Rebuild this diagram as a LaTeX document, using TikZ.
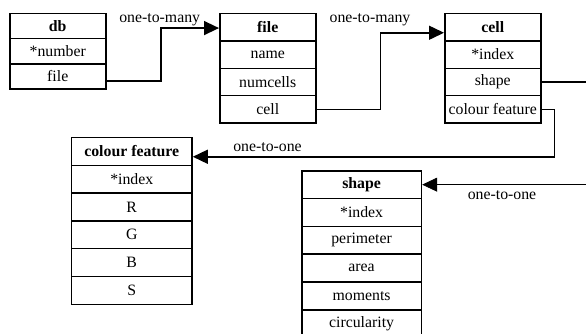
\documentclass[tikz,border=0pt]{standalone}
\usepackage{fontspec}
\setmainfont{Liberation Serif}
\newfontfamily\tnr{Liberation Serif}
\usetikzlibrary{arrows.meta,calc}
\tikzset{
  txt/.style={font=\tnr\fontsize{15.8}{18}\selectfont},
  cellrow/.style={draw, line width=1.5pt, inner sep=0pt, anchor=north west, txt},
  headrow/.style={cellrow, font=\tnr\fontsize{15.8}{18}\selectfont\bfseries},
  dbrow/.style={minimum width=96pt, minimum height=25.2pt},
  filerow/.style={minimum width=96pt, minimum height=27.4pt},
  cfrow/.style={minimum width=120.6pt, minimum height=27.8pt},
  shrow/.style={minimum width=119.7pt, minimum height=27.8pt},
  tip/.style={-{Triangle[length=15pt,width=14pt]}},
  conn/.style={line width=1.5pt, tip},
  thinconn/.style={line width=0.8pt, tip},
  thickline/.style={line width=1.5pt},
  lbl/.style={txt, anchor=base, inner sep=0pt}
}
\begin{document}
\begin{tikzpicture}[x=1pt,y=-1pt]
\useasboundingbox (0,0) rectangle (586,333);
\clip (0,0) rectangle (586,333);
% db
\node[headrow,dbrow] (db0) at (9,12.7) {db};
\node[cellrow,dbrow] (dbnum) at (9,37.9) {*number};
\node[cellrow,dbrow] (dbfile) at (9,63.1) {file};
% file
\node[headrow,filerow] (file0) at (219,12.7) {file};
\node[cellrow,filerow] (fname) at (219,40.1) {name};
\node[cellrow,filerow] (fnum) at (219,67.5) {numcells};
\node[cellrow,filerow] (fcell) at (219,94.9) {cell};
% cell
\node[headrow,filerow] (cell0) at (444,12.7) {cell};
\node[cellrow,filerow] (cidx) at (444,40.1) {*index};
\node[cellrow,filerow] (cshape) at (444,67.5) {shape};
\node[cellrow,filerow] (ccol) at (444,94.9) {colour feature};
% colour feature
\node[headrow,cfrow] (cf0) at (70.7,136.7) {colour feature};
\node[cellrow,cfrow] (cfidx) at (70.7,164.5) {*index};
\node[cellrow,cfrow] (cfr) at (70.7,192.3) {R};
\node[cellrow,cfrow] (cfg) at (70.7,220.1) {G};
\node[cellrow,cfrow] (cfb) at (70.7,247.9) {B};
\node[cellrow,cfrow] (cfs) at (70.7,275.7) {S};
% shape
\node[headrow,shrow] (sh0) at (301,170) {shape};
\node[cellrow,shrow] (shidx) at (301,197.8) {*index};
\node[cellrow,shrow] (shper) at (301,225.6) {perimeter};
\node[cellrow,shrow] (sharea) at (301,253.4) {area};
\node[cellrow,shrow] (shmom) at (301,281.2) {moments};
\node[cellrow,shrow] (shcirc) at (301,309.0) {circularity};
% bend coordinates
\coordinate (b1) at (161,50);
\coordinate (b2) at (380.7,70);
\coordinate (b3) at (554.5,130);
\coordinate (edge) at (588,0);
\coordinate (split) at (555,0);
% connectors
\draw[conn] ([yshift=-4.3pt]dbfile.east) -| (b1) |- ([yshift=-0.9pt]file0.west);
\draw[conn] (fcell.east) -| (b2) |- ([yshift=-5.6pt]cell0.west);
\draw[conn] (ccol.east) -| (b3) |- ([yshift=-5.4pt]cf0.east);
\draw[thickline] (cshape.east) -- (cshape.east -| edge);
\draw[thickline] (sh0.east -| edge) -- (sh0.east -| split);
\draw[thinconn] (sh0.east -| split) -- (sh0.east);
% labels
\node[lbl] (l1) at (159.7,22.7) {one-to-many};
\node[lbl] (l2) at (370,22.7) {one-to-many};
\node[lbl] (l3) at (267.5,151) {one-to-one};
\node[lbl] (l4) at (502,199) {one-to-one};
\end{tikzpicture}
\end{document}
